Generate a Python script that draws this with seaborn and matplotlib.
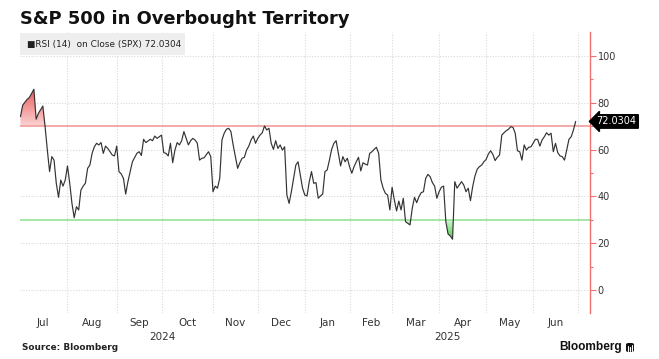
import numpy as np
import pandas as pd
import matplotlib
matplotlib.use("Agg")
import matplotlib.pyplot as plt
import matplotlib.transforms as mtransforms
from matplotlib.patches import Rectangle, FancyBboxPatch
from matplotlib.path import Path
from matplotlib.colors import LinearSegmentedColormap
import seaborn as sns

# ---------------- data ----------------
TITLE = "S&P 500 in Overbought Territory"
LEGEND_TEXT = "\u25A0RSI (14)  on Close (SPX) 72.0304"
LAST_LABEL = "72.0304"
SOURCE = "Source: Bloomberg"
BRAND = "Bloomberg"

# NYSE holidays (trading-day x axis)
HOLIDAYS = ["2024-07-04", "2024-09-02", "2024-11-28", "2024-12-25",
            "2025-01-01", "2025-01-09", "2025-01-20", "2025-02-17",
            "2025-04-18", "2025-05-26", "2025-06-19", "2025-07-04"]

dates = [
    "2024-07-02", "2024-07-03", "2024-07-08", "2024-07-09", "2024-07-11", "2024-07-12",
    "2024-07-15", "2024-07-17", "2024-07-18", "2024-07-19", "2024-07-22", "2024-07-23",
    "2024-07-24", "2024-07-25", "2024-07-26", "2024-07-29", "2024-07-30", "2024-07-31",
    "2024-08-01", "2024-08-02", "2024-08-05", "2024-08-06", "2024-08-07", "2024-08-08",
    "2024-08-09", "2024-08-12", "2024-08-13", "2024-08-14", "2024-08-15", "2024-08-16",
    "2024-08-19", "2024-08-20", "2024-08-21", "2024-08-22", "2024-08-23", "2024-08-26",
    "2024-08-27", "2024-08-29", "2024-08-30",
    "2024-09-03", "2024-09-04", "2024-09-05", "2024-09-06", "2024-09-09", "2024-09-10",
    "2024-09-11", "2024-09-12", "2024-09-16", "2024-09-17", "2024-09-18", "2024-09-19",
    "2024-09-20", "2024-09-24", "2024-09-25", "2024-09-26", "2024-09-27", "2024-09-30",
    "2024-10-01", "2024-10-02", "2024-10-03", "2024-10-04", "2024-10-07", "2024-10-08",
    "2024-10-09", "2024-10-10", "2024-10-11", "2024-10-14", "2024-10-15", "2024-10-16",
    "2024-10-17", "2024-10-18", "2024-10-21", "2024-10-22", "2024-10-23", "2024-10-24",
    "2024-10-25", "2024-10-28", "2024-10-30", "2024-10-31",
    "2024-11-01", "2024-11-04", "2024-11-05", "2024-11-06", "2024-11-07", "2024-11-08",
    "2024-11-11", "2024-11-12", "2024-11-13", "2024-11-14", "2024-11-18", "2024-11-19",
    "2024-11-20", "2024-11-21", "2024-11-22", "2024-11-25", "2024-11-26", "2024-11-27",
    "2024-11-29",
    "2024-12-02", "2024-12-03", "2024-12-04", "2024-12-05", "2024-12-06", "2024-12-09",
    "2024-12-10", "2024-12-11", "2024-12-12", "2024-12-13", "2024-12-16", "2024-12-17",
    "2024-12-18", "2024-12-19", "2024-12-20", "2024-12-23", "2024-12-24", "2024-12-26",
    "2024-12-27", "2024-12-30", "2024-12-31",
    "2025-01-02", "2025-01-03", "2025-01-06", "2025-01-07", "2025-01-08", "2025-01-10",
    "2025-01-13", "2025-01-14", "2025-01-15", "2025-01-16", "2025-01-17", "2025-01-21",
    "2025-01-22", "2025-01-23", "2025-01-24", "2025-01-27", "2025-01-28", "2025-01-29",
    "2025-01-30", "2025-01-31",
    "2025-02-03", "2025-02-04", "2025-02-05", "2025-02-06", "2025-02-07", "2025-02-10",
    "2025-02-11", "2025-02-12", "2025-02-13", "2025-02-14", "2025-02-18", "2025-02-19",
    "2025-02-20", "2025-02-21", "2025-02-24", "2025-02-25", "2025-02-26", "2025-02-27",
    "2025-02-28",
    "2025-03-03", "2025-03-04", "2025-03-05", "2025-03-06", "2025-03-07", "2025-03-10",
    "2025-03-11", "2025-03-12", "2025-03-13", "2025-03-14", "2025-03-17", "2025-03-18",
    "2025-03-19", "2025-03-20", "2025-03-21", "2025-03-24", "2025-03-25", "2025-03-26",
    "2025-03-27", "2025-03-28", "2025-03-31",
    "2025-04-01", "2025-04-02", "2025-04-03", "2025-04-04", "2025-04-07", "2025-04-08",
    "2025-04-09", "2025-04-10", "2025-04-11", "2025-04-14", "2025-04-15", "2025-04-16",
    "2025-04-17", "2025-04-21", "2025-04-22", "2025-04-23", "2025-04-24", "2025-04-25",
    "2025-04-28", "2025-04-29", "2025-04-30",
    "2025-05-01", "2025-05-02", "2025-05-05", "2025-05-06", "2025-05-07", "2025-05-08",
    "2025-05-09", "2025-05-12", "2025-05-13", "2025-05-14", "2025-05-15", "2025-05-16",
    "2025-05-19", "2025-05-20", "2025-05-21", "2025-05-22", "2025-05-23", "2025-05-27",
    "2025-05-28", "2025-05-29", "2025-05-30",
    "2025-06-02", "2025-06-03", "2025-06-04", "2025-06-05", "2025-06-06", "2025-06-09",
    "2025-06-10", "2025-06-11", "2025-06-12", "2025-06-13", "2025-06-16", "2025-06-17",
    "2025-06-18", "2025-06-20", "2025-06-23", "2025-06-24", "2025-06-25", "2025-06-26",
    "2025-06-27", "2025-06-30",
]

rsi = [
    74.1, 79.0, 81.5, 82.3, 85.8, 73.0,
    75.5, 78.6, 69.8, 59.8, 50.6, 57.0,
    55.5, 45.6, 39.6, 47.0, 44.4, 47.0,
    53.0, 45.6, 37.0, 30.9, 35.6, 34.2,
    42.7, 44.4, 45.6, 52.0, 53.4, 58.4,
    61.2, 62.7, 62.0, 63.0, 58.4, 61.5,
    60.5, 57.7, 57.3,
    61.5, 50.6, 49.6, 47.7, 41.0, 46.3,
    50.6, 54.8, 58.4, 59.1, 57.5, 64.4,
    63.0, 64.4, 63.8, 65.8, 64.8, 65.5,
    66.2, 58.7, 58.4, 57.3, 62.7, 54.4,
    59.8, 63.0, 62.0, 63.8, 67.7, 64.8,
    62.0, 63.8, 64.8, 64.1, 62.7, 55.5,
    56.3, 56.5, 59.1, 57.0,
    42.0, 44.4, 43.5, 47.7, 64.1, 67.0,
    68.7, 69.1, 67.7, 62.0, 52.0, 54.4,
    56.3, 56.7, 59.8, 61.5, 64.1, 65.8,
    62.7,
    64.8, 66.2, 67.2, 70.1, 68.4, 69.1,
    62.7, 60.1, 63.8, 60.5, 62.0, 59.8,
    61.2, 40.6, 37.0, 42.0, 47.7, 53.4,
    54.8, 49.1, 43.5,
    40.6, 40.2, 46.3, 50.6, 45.6, 45.9,
    39.2, 40.2, 41.0, 50.6, 51.3, 55.5,
    60.1, 62.7, 63.8, 58.4, 53.0, 57.0,
    54.8, 56.3,
    52.7, 49.9, 52.7, 54.8, 56.7, 50.9,
    54.4, 53.8, 53.4, 58.4, 59.1, 60.1,
    61.0, 58.4, 47.0, 43.5, 41.3, 40.6,
    34.2,
    43.9, 38.5, 33.8, 38.0, 34.2, 39.2,
    29.2, 28.5, 27.8, 34.9, 39.6, 37.3,
    39.9, 41.6, 42.0, 47.7, 49.4, 48.4,
    45.9, 44.4, 39.2,
    42.0, 43.9, 44.4, 29.2, 23.9, 23.1,
    21.7, 46.3, 43.5, 44.9, 46.3, 44.9,
    42.0, 43.5, 38.2, 44.2, 48.7, 51.6,
    52.7, 53.4, 54.8,
    55.8, 58.1, 59.5, 58.0, 55.3, 56.7,
    57.7, 66.2, 67.2, 68.1, 68.7, 69.8,
    69.5, 67.0, 59.5, 59.1, 55.5, 62.0,
    59.8, 61.0, 61.2,
    62.7, 64.4, 64.4, 61.5, 64.1, 65.5,
    67.2, 66.2, 67.0, 59.1, 62.7, 58.7,
    57.3, 57.0, 55.5, 59.8, 64.4, 65.5,
    68.4, 72.0304,
]

OVERBOUGHT = 70
OVERSOLD = 30
month_labels = ["Jul", "Aug", "Sep", "Oct", "Nov", "Dec",
                "Jan", "Feb", "Mar", "Apr", "May", "Jun"]
year_labels = ["2024", "2025"]
y_ticks = [0, 20, 40, 60, 80, 100]
y_minor = [10, 30, 50, 70, 90]

# ---------------- style ----------------
sns.set_theme(style="white")
plt.rcParams["font.family"] = ["DejaVu Sans"]

W, H = 659, 359
fig = plt.figure(figsize=(W / 100, H / 100), dpi=100)
ax = fig.add_axes([20 / W, (H - 313) / H, 570 / W, 281 / H])

# trading-day positions
sessions = pd.bdate_range("2024-07-01", "2025-07-31", freq="C", holidays=HOLIDAYS)
pos = sessions.get_indexer(pd.to_datetime(dates)).astype(float)
vals = np.array(rsi, dtype=float)

idx = pd.Series(np.arange(len(sessions)), index=sessions)
firsts = idx.groupby(sessions.to_period("M")).first().values[:13]
XMIN, XMAX = 0.79, 255.4
YMIN, YMAX = -9.83, 110.26

df = pd.DataFrame({"pos": pos, "rsi": vals})


def gradient_fill(cond, ref, c_near, c_far, far_val):
    coll = ax.fill_between(pos, vals, np.full_like(vals, ref), where=cond,
                           interpolate=True, facecolor="none", edgecolor="none")
    paths = coll.get_paths()
    if not paths:
        return
    path = Path.make_compound_path(*paths)
    cmap = LinearSegmentedColormap.from_list("g", [c_near, c_far])
    grad = np.linspace(0, 1, 256).reshape(-1, 1)
    if far_val > ref:
        lo, hi = ref, far_val
    else:
        lo, hi = far_val, ref
        grad = grad[::-1]
    im = ax.imshow(grad, cmap=cmap, aspect="auto", origin="lower",
                   extent=[XMIN, XMAX, lo, hi], zorder=1, interpolation="bilinear")
    im.set_clip_path(path, transform=ax.transData)


gradient_fill(vals > OVERBOUGHT, OVERBOUGHT, "#fbd3d3", "#ea5a5a", 86)
gradient_fill(vals < OVERSOLD, OVERSOLD, "#d0f4d0", "#45cc45", 21.5)

ax.axhline(OVERBOUGHT, color="#f2a3a3", lw=1.3, zorder=2)
ax.axhline(OVERSOLD, color="#9ee49e", lw=1.3, zorder=2)

sns.lineplot(data=df, x="pos", y="rsi", ax=ax, color="#333333", lw=0.85,
             zorder=3, sort=False)

ax.set_xlim(XMIN, XMAX)
ax.set_ylim(YMIN, YMAX)
ax.set_xlabel("")
ax.set_ylabel("")

# x axis: month grid at month starts, labels mid-month
mids = [(firsts[i] + firsts[i + 1]) / 2 for i in range(12)]
ax.set_xticks(mids)
ax.set_xticklabels(month_labels)
ax.set_xticks(list(firsts[1:]), minor=True)
ax.tick_params(axis="x", which="both", length=0, labelsize=7.5,
               labelcolor="#333333", pad=3.5)

# y axis on right
ax.yaxis.tick_right()
ax.set_yticks(y_ticks)
ax.set_yticks(y_minor, minor=True)
ax.tick_params(axis="y", which="major", length=4, width=0.8, color="#f07070",
               labelcolor="#333333", labelsize=7, pad=1.5)
ax.tick_params(axis="y", which="minor", length=2.5, width=0.8, color="#f07070")

ax.grid(False)
ax.grid(which="minor", axis="x", color="#d9d9d9", ls=(0, (1, 1.5)), lw=0.8)
ax.grid(which="major", axis="y", color="#d9d9d9", ls=(0, (1, 1.5)), lw=0.8)
ax.set_axisbelow(True)

for s in ["left", "top", "bottom"]:
    ax.spines[s].set_visible(False)
ax.spines["right"].set_color("#f07070")
ax.spines["right"].set_linewidth(1.0)

# year labels
jan_pos = firsts[6]
year_pos = [(XMIN + jan_pos) / 2, (jan_pos + XMAX) / 2]
for yp, yl in zip(year_pos, year_labels):
    ax.annotate(yl, xy=(yp, 1 - 337 / H), xycoords=("data", "figure fraction"),
                ha="center", va="center", fontsize=7.5, color="#333333")

# legend box
ax.add_patch(Rectangle((0, 1 - 23 / 281), 165 / 570, 22 / 281, transform=ax.transAxes,
                       facecolor="#eeeeee", edgecolor="none", zorder=4))
ax.text(7 / 570, 1 - 12 / 281, LEGEND_TEXT, transform=ax.transAxes, fontsize=6.4,
        color="#222222", va="center", ha="left", zorder=5)

# last value label
trans = mtransforms.blended_transform_factory(ax.transAxes, ax.transData)
ax.text(1.0115, vals[-1], LAST_LABEL, transform=trans, color="white", fontsize=7,
        va="center", ha="left", clip_on=False, zorder=6,
        bbox=dict(boxstyle="larrow,pad=0.18", fc="black", ec="black"))

# title and footer
fig.text(20 / W, 1 - 19 / H, TITLE, fontsize=12.9, fontweight="bold",
         color="#111111", va="center", ha="left")
fig.text(22 / W, 1 - 348 / H, SOURCE, fontsize=6.4, fontweight="bold",
         color="#222222", va="center", ha="left")
fig.text(622 / W, 1 - 347 / H, BRAND, fontsize=8.6, fontweight="bold",
         family=["Liberation Sans", "DejaVu Sans"], color="#111111",
         va="center", ha="right")
fig.patches.append(FancyBboxPatch((626 / W, 1 - 352 / H), 8 / W, 9 / H,
                                  boxstyle="round,pad=0,rounding_size=0.004",
                                  transform=fig.transFigure, fc="#111111", ec="none"))
for bx, bh in [(628.2, 5), (630.2, 3.5), (632.0, 6)]:
    fig.lines.append(plt.Line2D([bx / W, bx / W], [1 - 350.5 / H, 1 - (350.5 - bh) / H],
                                transform=fig.transFigure, color="white", lw=0.8))

fig.savefig("out.png", dpi=100)
